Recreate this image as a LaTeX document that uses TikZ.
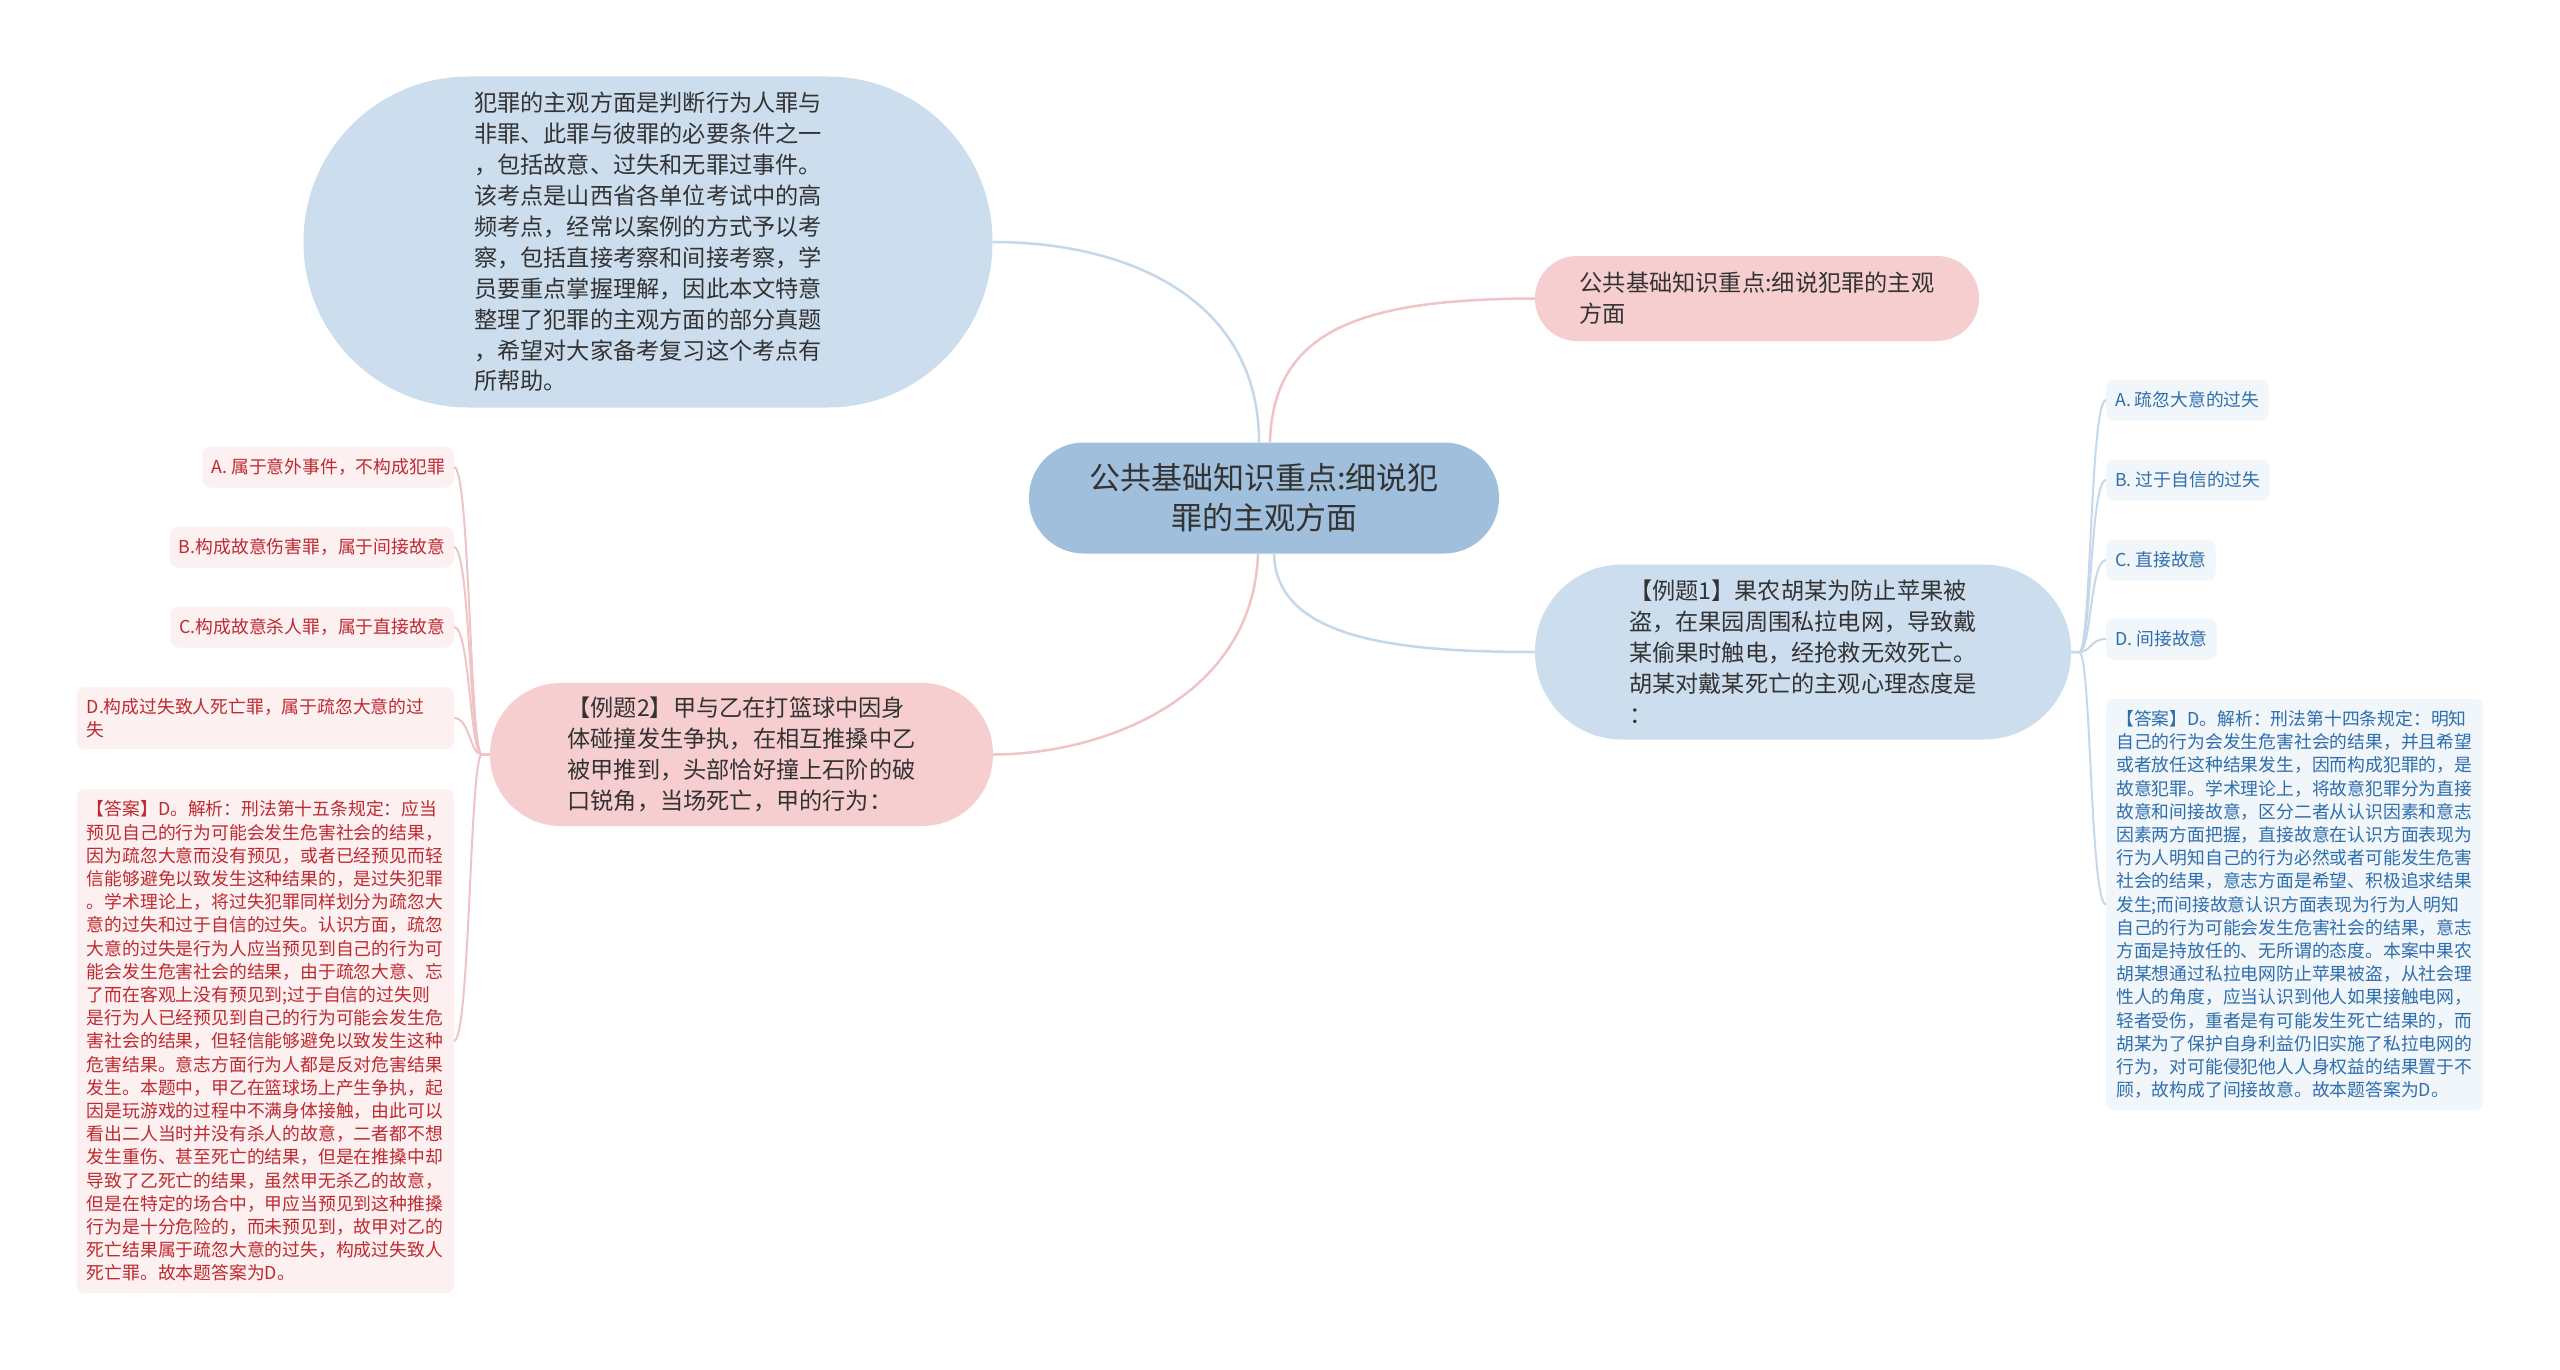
\documentclass[tikz,border=0pt]{standalone}
\usepackage{fontspec}
\newfontfamily\cjk{Noto Sans CJK SC}
\definecolor{rootblue}{HTML}{A0BFDC}
\definecolor{midblue}{HTML}{CCDEEE}
\definecolor{midpink}{HTML}{F6CED0}
\definecolor{txt}{HTML}{333333}
\definecolor{leafbluebg}{HTML}{F1F6FB}
\definecolor{leafbluetxt}{HTML}{2F6EAD}
\definecolor{leafpinkbg}{HTML}{FCF0F0}
\definecolor{leafpinktxt}{HTML}{BE2A30}
\definecolor{lineblue}{HTML}{C5D8EA}
\definecolor{linepink}{HTML}{F0C4C6}
\begin{document}
\begin{tikzpicture}[x=1pt,y=-1pt,
  rootnode/.style={fill=rootblue,text=txt,font=\cjk\fontsize{31pt}{40pt}\selectfont,align=center,inner sep=0pt},
  midtext/.style={text=txt,font=\cjk\fontsize{23.2pt}{30.9pt}\selectfont,align=left,inner sep=0pt},
  bluemid/.style={midtext,fill=midblue},
  pinkmid/.style={midtext,fill=midpink},
  leafbase/.style={font=\cjk\fontsize{17.8pt}{23.2pt}\selectfont,rounded corners=8pt,inner xsep=9pt,inner ysep=0pt,minimum height=41pt},
  leafblue/.style={leafbase,fill=leafbluebg,text=leafbluetxt,anchor=west},
  leafpink/.style={leafbase,fill=leafpinkbg,text=leafpinktxt,anchor=east},
  blueline/.style={draw=lineblue,line width=2.5pt},
  pinkline/.style={draw=linepink,line width=2.5pt},
  bluethin/.style={draw=lineblue,line width=2pt},
  pinkthin/.style={draw=linepink,line width=2pt}]
\fill[white] (0,0) rectangle (2560,1370);
\useasboundingbox (0,0) rectangle (2560,1370);

% main nodes
\node[rootnode,minimum width=470pt,minimum height=111pt,rounded corners=55pt] (root) at (1264,498)
  {公共基础知识重点:细说犯\\罪的主观方面};
\node[bluemid,minimum width=689pt,minimum height=331pt,rounded corners=165pt] (tl) at (648,242)
  {犯罪的主观方面是判断行为人罪与\\非罪、此罪与彼罪的必要条件之一\\，包括故意、过失和无罪过事件。\\该考点是山西省各单位考试中的高\\频考点，经常以案例的方式予以考\\察，包括直接考察和间接考察，学\\员要重点掌握理解，因此本文特意\\整理了犯罪的主观方面的部分真题\\，希望对大家备考复习这个考点有\\所帮助。};
\node[pinkmid,minimum width=444pt,minimum height=85pt,rounded corners=42pt] (tr) at (1757,298.5)
  {公共基础知识重点:细说犯罪的主观\\方面};
\node[bluemid,minimum width=536pt,minimum height=175pt,rounded corners=87pt] (ex1) at (1803,652)
  {【例题1】果农胡某为防止苹果被\\盗，在果园周围私拉电网，导致戴\\某偷果时触电，经抢救无效死亡。\\胡某对戴某死亡的主观心理态度是\\：};
\node[pinkmid,minimum width=503pt,minimum height=143pt,rounded corners=71pt] (ex2) at (741.5,754.5)
  {【例题2】甲与乙在打篮球中因身\\体碰撞发生争执，在相互推搡中乙\\被甲推到，头部恰好撞上石阶的破\\口锐角，当场死亡，甲的行为：};

% right leaves
\node[leafblue] (ra) at (2106,400) {A. 疏忽大意的过失};
\node[leafblue] (rb) at (2106,480) {B. 过于自信的过失};
\node[leafblue] (rc) at (2106,560) {C. 直接故意};
\node[leafblue] (rd) at (2106,639) {D. 间接故意};
\node[leafblue,text width=357pt,inner xsep=10pt,align=left,minimum height=411pt] (rans) at (2106,904.5)
  {【答案】D。解析：刑法第十四条规定：明知\\自己的行为会发生危害社会的结果，并且希望\\或者放任这种结果发生，因而构成犯罪的，是\\故意犯罪。学术理论上，将故意犯罪分为直接\\故意和间接故意，区分二者从认识因素和意志\\因素两方面把握，直接故意在认识方面表现为\\行为人明知自己的行为必然或者可能发生危害\\社会的结果，意志方面是希望、积极追求结果\\发生;而间接故意认识方面表现为行为人明知\\自己的行为可能会发生危害社会的结果，意志\\方面是持放任的、无所谓的态度。本案中果农\\胡某想通过私拉电网防止苹果被盗，从社会理\\性人的角度，应当认识到他人如果接触电网，\\轻者受伤，重者是有可能发生死亡结果的，而\\胡某为了保护自身利益仍旧实施了私拉电网的\\行为，对可能侵犯他人人身权益的结果置于不\\顾，故构成了间接故意。故本题答案为D。};

% left leaves
\node[leafpink] (la) at (454,467) {A. 属于意外事件，不构成犯罪};
\node[leafpink] (lb) at (454,547) {B.构成故意伤害罪，属于间接故意};
\node[leafpink] (lc) at (454,627) {C.构成故意杀人罪，属于直接故意};
\node[leafpink,text width=357pt,inner xsep=10pt,align=left,minimum height=62pt] (ld) at (454,718)
  {D.构成过失致人死亡罪，属于疏忽大意的过\\失};
\node[leafpink,text width=357pt,inner xsep=10pt,align=left,minimum height=504pt] (lans) at (454,1041)
  {【答案】D。解析：刑法第十五条规定：应当\\预见自己的行为可能会发生危害社会的结果，\\因为疏忽大意而没有预见，或者已经预见而轻\\信能够避免以致发生这种结果的，是过失犯罪\\。学术理论上，将过失犯罪同样划分为疏忽大\\意的过失和过于自信的过失。认识方面，疏忽\\大意的过失是行为人应当预见到自己的行为可\\能会发生危害社会的结果，由于疏忽大意、忘\\了而在客观上没有预见到;过于自信的过失则\\是行为人已经预见到自己的行为可能会发生危\\害社会的结果，但轻信能够避免以致发生这种\\危害结果。意志方面行为人都是反对危害结果\\发生。本题中，甲乙在篮球场上产生争执，起\\因是玩游戏的过程中不满身体接触，由此可以\\看出二人当时并没有杀人的故意，二者都不想\\发生重伤、甚至死亡的结果，但是在推搡中却\\导致了乙死亡的结果，虽然甲无杀乙的故意，\\但是在特定的场合中，甲应当预见到这种推搡\\行为是十分危险的，而未预见到，故甲对乙的\\死亡结果属于疏忽大意的过失，构成过失致人\\死亡罪。故本题答案为D。};

% main connectors
\draw[blueline] (tl.east) .. controls (1130,242) and (1259,300) .. ([xshift=-5pt]root.north);
\draw[pinkline] ([xshift=6pt]root.north) .. controls (1273,330) and (1360,299) .. (tr.west);
\draw[blueline] ([xshift=10pt]root.south) .. controls (1276,640) and (1400,652) .. (ex1.west);
\draw[pinkline] ([xshift=-6pt]root.south) .. controls (1253,700) and (1100,754.5) .. (ex2.east);

% right branches
\foreach \c in {ra,rb,rc,rd,rans}
  \draw[bluethin] (ex1.east) -- ++(8,0) .. controls +(12,0) and +(-16,0) .. (\c.west);
% left branches
\foreach \c in {la,lb,lc,ld,lans}
  \draw[pinkthin] (ex2.west) -- ++(-8,0) .. controls +(-12,0) and +(16,0) .. (\c.east);
\end{tikzpicture}
\end{document}
